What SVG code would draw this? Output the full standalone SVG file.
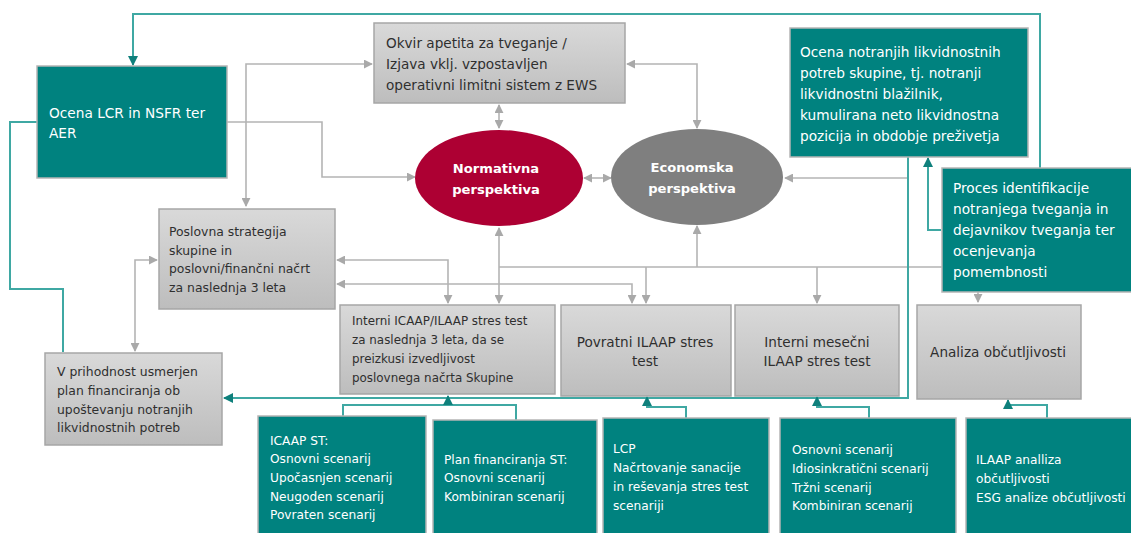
<svg xmlns="http://www.w3.org/2000/svg" width="1131" height="533" viewBox="0 0 1131 533">
<defs>
<linearGradient id="gg" x1="0" y1="0" x2="0" y2="1">
<stop offset="0" stop-color="#d9d9d9"/>
<stop offset="1" stop-color="#bdbdbd"/>
</linearGradient>
<marker id="ga" viewBox="0 0 10 10" refX="9" refY="5" markerWidth="9" markerHeight="9" markerUnits="userSpaceOnUse" orient="auto-start-reverse">
<path d="M0,0 L10,5 L0,10 z" fill="#a9a9a9"/>
</marker>
<marker id="ta" viewBox="0 0 10 10" refX="9" refY="5" markerWidth="10" markerHeight="10" markerUnits="userSpaceOnUse" orient="auto-start-reverse">
<path d="M0,0 L10,5 L0,10 z" fill="#0f807c"/>
</marker>
<style>
.gbox{fill:url(#gg);stroke:#a6a6a6;stroke-width:1.5}
.tbox{fill:#00827f;stroke:#b5b5b5;stroke-width:1.5}
.gl{fill:none;stroke:#b4b4b4;stroke-width:1.6}
.tl{fill:none;stroke:#3fa8a3;stroke-width:2}
text{font-family:"DejaVu Sans","Noto Sans",sans-serif}
.gt{fill:#2f2f2f;font-size:13.6px}
.gs{fill:#2f2f2f;font-size:12.4px}
.gx{fill:#2f2f2f;font-size:11.9px}
.wt{fill:#ffffff;font-size:13.7px}
.ws{fill:#ffffff;font-size:12.2px}
.et{fill:#ffffff;font-size:13.1px;font-weight:700}
</style>
</defs>

<g id="connectors">
<path class="gl" d="M372,64 H246 V206" marker-start="url(#ga)" marker-end="url(#ga)"/>
<path class="gl" d="M227,122 H322 V177 H415" marker-end="url(#ga)"/>
<path class="gl" d="M499,105 V128" marker-start="url(#ga)" marker-end="url(#ga)"/>
<path class="gl" d="M627,64 H697 V128" marker-start="url(#ga)" marker-end="url(#ga)"/>
<path class="gl" d="M584,178 H611" marker-start="url(#ga)" marker-end="url(#ga)"/>
<path class="gl" d="M908,178 H785" marker-end="url(#ga)"/>
<path class="gl" d="M499,228 V303" marker-start="url(#ga)" marker-end="url(#ga)"/>
<path class="gl" d="M337,260 H448 V303" marker-start="url(#ga)" marker-end="url(#ga)"/>
<path class="gl" d="M337,284 H632 V303" marker-start="url(#ga)" marker-end="url(#ga)"/>
<path class="gl" d="M499,267 H978 V302" marker-end="url(#ga)"/>
<path class="gl" d="M697,267 V226" marker-end="url(#ga)"/>
<path class="gl" d="M646,267 V303" marker-end="url(#ga)"/>
<path class="gl" d="M817,267 V303" marker-end="url(#ga)"/>
<path class="gl" d="M157,260 H135 V351" marker-start="url(#ga)" marker-end="url(#ga)"/>

<path class="tl" d="M1040,168 V14 H133 V65" marker-end="url(#ta)"/>
<path class="tl" d="M37,122 H10 V289 H63 V352"/>
<path class="tl" d="M908,157 V398 H224" marker-end="url(#ta)"/>
<path class="tl" d="M941,230 H928 V158" marker-end="url(#ta)"/>
<path class="tl" d="M343,416 V405 H516 V420"/>
<path class="tl" d="M448,405 V396" marker-end="url(#ta)"/>
<path class="tl" d="M686,418 V407 H647 V397" marker-end="url(#ta)"/>
<path class="tl" d="M869,418 V407 H817 V397" marker-end="url(#ta)"/>
<path class="tl" d="M1047,418 V405 H1008 V400" marker-end="url(#ta)"/>
</g>

<g id="lcr">
<rect class="tbox" x="37" y="66" width="190" height="112"/>
<text class="wt" x="49" y="118">Ocena LCR in NSFR ter</text>
<text class="wt" x="49" y="138">AER</text>
</g>

<g id="okvir">
<rect class="gbox" x="374" y="23" width="251" height="80"/>
<text class="gt" x="386" y="48">Okvir apetita za tveganje /</text>
<text class="gt" x="386" y="69">Izjava vklj. vzpostavljen</text>
<text class="gt" x="386" y="90">operativni limitni sistem z EWS</text>
</g>

<g id="ocena-notranjih">
<rect class="tbox" x="790" y="28" width="238" height="129"/>
<text class="wt" x="800" y="57">Ocena notranjih likvidnostnih</text>
<text class="wt" x="800" y="78">potreb skupine, tj. notranji</text>
<text class="wt" x="800" y="99">likvidnostni blažilnik,</text>
<text class="wt" x="800" y="120">kumulirana neto likvidnostna</text>
<text class="wt" x="800" y="141">pozicija in obdobje preživetja</text>
</g>

<g id="proces">
<rect class="tbox" x="942" y="168" width="195" height="124"/>
<text class="wt" x="953" y="193">Proces identifikacije</text>
<text class="wt" x="953" y="214">notranjega tveganja in</text>
<text class="wt" x="953" y="235">dejavnikov tveganja ter</text>
<text class="wt" x="953" y="256">ocenjevanja</text>
<text class="wt" x="953" y="277">pomembnosti</text>
</g>

<g id="normativna">
<ellipse cx="499" cy="178" rx="84" ry="48" fill="#ad0033"/>
<text class="et" x="496" y="173" text-anchor="middle">Normativna</text>
<text class="et" x="496" y="194" text-anchor="middle">perspektiva</text>
</g>

<g id="economska">
<ellipse cx="697" cy="177" rx="86" ry="48" fill="#7f7f7f"/>
<text class="et" x="692" y="172" text-anchor="middle">Economska</text>
<text class="et" x="692" y="193" text-anchor="middle">perspektiva</text>
</g>

<g id="poslovna">
<rect class="gbox" x="159" y="209" width="176" height="100"/>
<text class="gs" x="169" y="236">Poslovna strategija</text>
<text class="gs" x="169" y="255">skupine in</text>
<text class="gs" x="169" y="273">poslovni/finančni načrt</text>
<text class="gs" x="169" y="292">za naslednja 3 leta</text>
</g>

<g id="v-prihodnost">
<rect class="gbox" x="45" y="353" width="177" height="92"/>
<text class="gs" x="57" y="376">V prihodnost usmerjen</text>
<text class="gs" x="57" y="395">plan financiranja ob</text>
<text class="gs" x="57" y="414">upoštevanju notranjih</text>
<text class="gs" x="57" y="432">likvidnostnih potreb</text>
</g>

<g id="interni-icaap">
<rect class="gbox" x="340" y="305" width="215" height="89"/>
<text class="gx" x="352" y="325">Interni ICAAP/ILAAP stres test</text>
<text class="gx" x="352" y="344">za naslednja  3 leta, da se</text>
<text class="gx" x="352" y="363">preizkusi izvedljivost</text>
<text class="gx" x="352" y="382">poslovnega načrta Skupine</text>
</g>

<g id="povratni">
<rect class="gbox" x="561" y="305" width="170" height="91"/>
<text class="gt" x="645" y="347" text-anchor="middle">Povratni ILAAP stres</text>
<text class="gt" x="645" y="366" text-anchor="middle">test</text>
</g>

<g id="interni-mesecni">
<rect class="gbox" x="735" y="305" width="164" height="91"/>
<text class="gt" x="817" y="347" text-anchor="middle">Interni mesečni</text>
<text class="gt" x="817" y="366" text-anchor="middle">ILAAP stres test</text>
</g>

<g id="analiza">
<rect class="gbox" x="917" y="305" width="164" height="94"/>
<text class="gt" x="998" y="357" text-anchor="middle">Analiza občutljivosti</text>
</g>

<g id="icaap-st">
<rect class="tbox" x="258" y="416" width="168" height="125"/>
<text class="ws" x="270" y="445">ICAAP ST:</text>
<text class="ws" x="270" y="463">Osnovni scenarij</text>
<text class="ws" x="270" y="482">Upočasnjen scenarij</text>
<text class="ws" x="270" y="501">Neugoden scenarij</text>
<text class="ws" x="270" y="519">Povraten scenarij</text>
</g>

<g id="plan-st">
<rect class="tbox" x="433" y="420" width="164" height="121"/>
<text class="ws" x="444" y="464">Plan financiranja ST:</text>
<text class="ws" x="444" y="482">Osnovni scenarij</text>
<text class="ws" x="444" y="501">Kombiniran scenarij</text>
</g>

<g id="lcp">
<rect class="tbox" x="603" y="418" width="166" height="123"/>
<text class="ws" x="613" y="453">LCP</text>
<text class="ws" x="613" y="472">Načrtovanje sanacije</text>
<text class="ws" x="613" y="491">in reševanja stres test</text>
<text class="ws" x="613" y="510">scenariji</text>
</g>

<g id="scenariji">
<rect class="tbox" x="780" y="418" width="176" height="123"/>
<text class="ws" x="792" y="454">Osnovni scenarij</text>
<text class="ws" x="792" y="473">Idiosinkratični scenarij</text>
<text class="ws" x="792" y="492">Tržni scenarij</text>
<text class="ws" x="792" y="510">Kombiniran scenarij</text>
</g>

<g id="ilaap-analiza">
<rect class="tbox" x="966" y="418" width="170" height="123"/>
<text class="ws" x="976" y="464">ILAAP analliza</text>
<text class="ws" x="976" y="483">občutljivosti</text>
<text class="ws" x="976" y="502">ESG analize občutljivosti</text>
</g>
</svg>
